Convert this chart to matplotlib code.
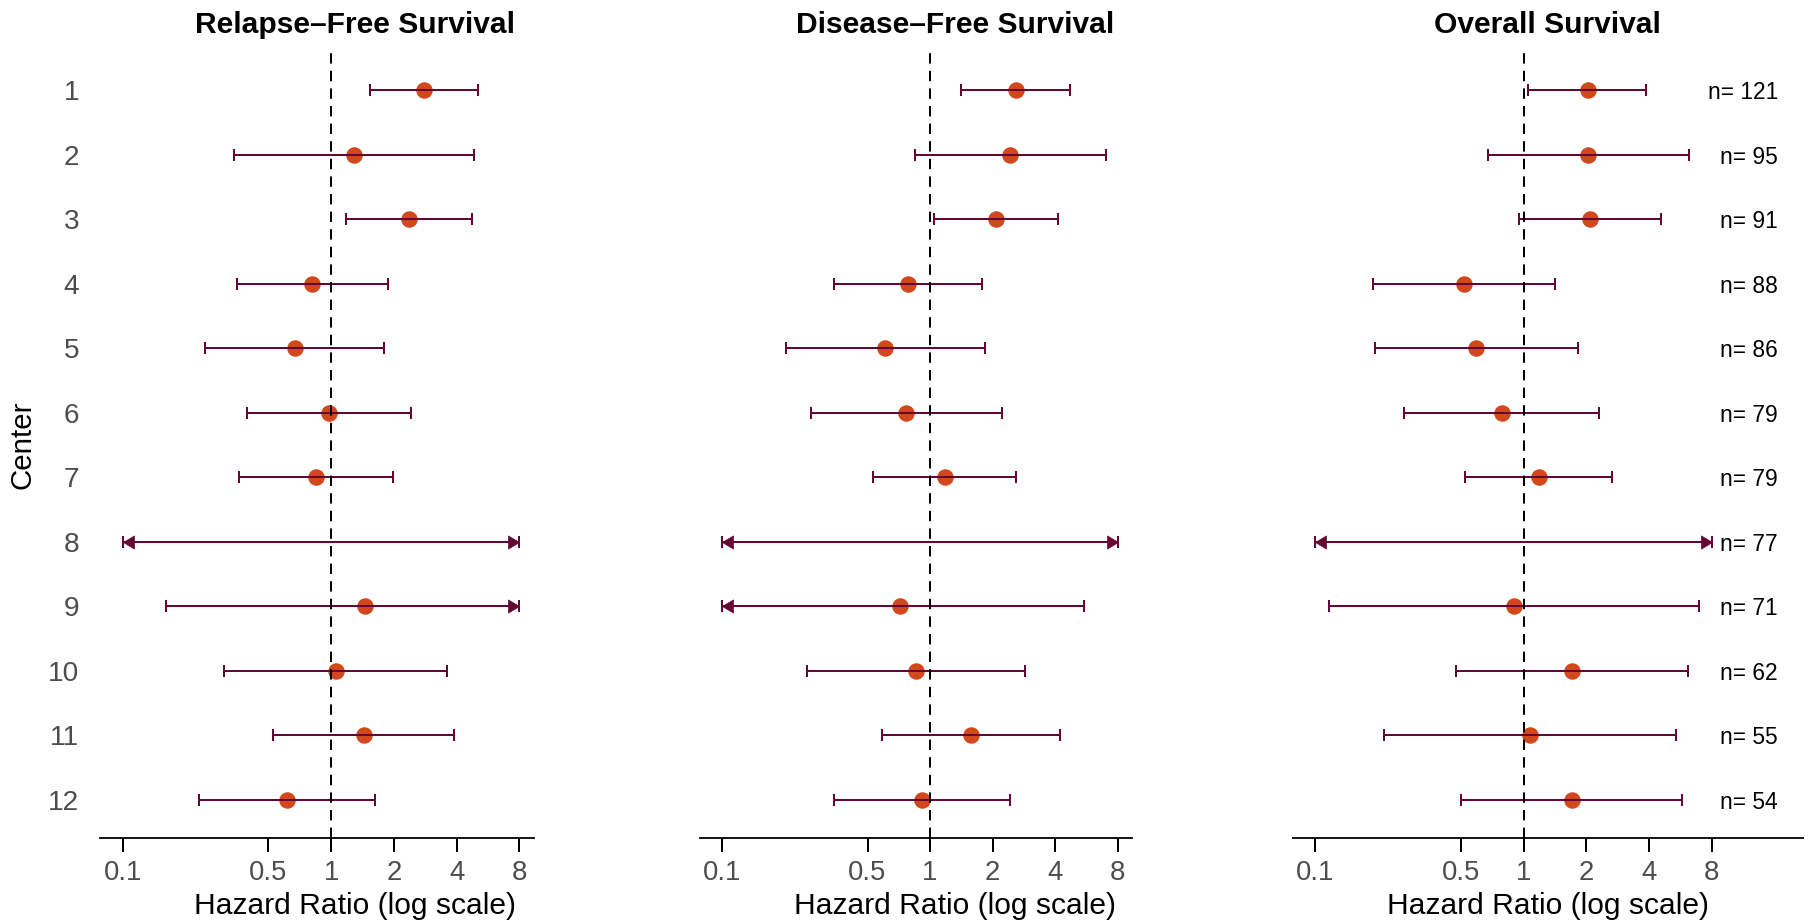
import numpy as np
import matplotlib
matplotlib.use("Agg")
import matplotlib.pyplot as plt
from matplotlib.path import Path

plt.rcParams['font.family'] = ['Liberation Sans', 'DejaVu Sans']

# ---------------- data ----------------
centers = ["1", "2", "3", "4", "5", "6", "7", "8", "9", "10", "11", "12"]
n_patients = [121, 95, 91, 88, 86, 79, 79, 77, 71, 62, 55, 54]

# 0.0 for a lower bound / inf for an upper bound = beyond the plotted range (arrow)
rfs_hr = [2.79, 1.29, 2.36, 0.813, 0.668, 0.976, 0.844, np.nan, 1.46, 1.06, 1.43, 0.613]
rfs_lo = [1.54, 0.342, 1.18, 0.352, 0.248, 0.395, 0.361, 0.0, 0.162, 0.307, 0.524, 0.231]
rfs_hi = [5.05, 4.86, 4.74, 1.88, 1.80, 2.42, 1.97, np.inf, np.inf, 3.60, 3.89, 1.62]

dfs_hr = [2.58, 2.44, 2.08, 0.781, 0.61, 0.77, 1.18, np.nan, 0.715, 0.853, 1.57, 0.915]
dfs_lo = [1.416, 0.847, 1.05, 0.344, 0.202, 0.268, 0.532, 0.0, 0.0, 0.2545, 0.584, 0.344]
dfs_hi = [4.73, 7.07, 4.12, 1.77, 1.84, 2.21, 2.60, np.inf, 5.50, 2.86, 4.22, 2.44]

os_hr = [2.03, 2.05, 2.08, 0.519, 0.591, 0.786, 1.18, np.nan, 0.903, 1.71, 1.07, 1.70]
os_lo = [1.05, 0.676, 0.954, 0.19, 0.193, 0.267, 0.525, 0.0, 0.1167, 0.472, 0.213, 0.503]
os_hi = [3.89, 6.20, 4.59, 1.42, 1.82, 2.30, 2.66, np.inf, 6.98, 6.16, 5.41, 5.78]

titles = ["Relapse\u2013Free Survival", "Disease\u2013Free Survival", "Overall Survival"]
x_ticks = [0.1, 0.5, 1, 2, 4, 8]
x_tick_labels = ["0.1", "0.5", "1", "2", "4", "8"]
clip_low, clip_high = 0.1, 8.0

# ---------------- style ----------------
W, H = 1810, 923
BAR = '#650634'
PT = '#D2481C'
TICKGREY = '#4D4D4D'
px = 72.0 / 100.0  # points per pixel

fig = plt.figure(figsize=(W / 100, H / 100), dpi=100)

y_top, y_bot = 51.3, 838.3
panels = [
    dict(x0=100.3, x1=534.2, xlim=(0.078, 9.42), cx=355.1),
    dict(x0=700.0, x1=1132.3, xlim=(0.078, 9.42), cx=954.7),
    dict(x0=1292.9, x1=1802.9, xlim=(0.078, 21.96), cx=1547.6),
]
series = [(rfs_hr, rfs_lo, rfs_hi), (dfs_hr, dfs_lo, dfs_hi), (os_hr, os_lo, os_hi)]

left_tri = Path([(0, 0), (1, 0.6), (1, -0.6), (0, 0)],
                [Path.MOVETO, Path.LINETO, Path.LINETO, Path.CLOSEPOLY])
right_tri = Path([(0, 0), (-1, 0.6), (-1, -0.6), (0, 0)],
                 [Path.MOVETO, Path.LINETO, Path.LINETO, Path.CLOSEPOLY])

rows = np.arange(1, len(centers) + 1)
lw = 2.0 * px

for i, (p, (hr, lo, hi)) in enumerate(zip(panels, series)):
    ax = fig.add_axes([p['x0'] / W, (H - y_bot) / H, (p['x1'] - p['x0']) / W, (y_bot - y_top) / H])
    ax.set_xscale('log')
    ax.set_xlim(*p['xlim'])
    ax.set_ylim(12.6, 0.4)

    hr = np.array(hr, dtype=float)
    lo = np.array(lo, dtype=float)
    hi = np.array(hi, dtype=float)
    lo_c = np.clip(lo, clip_low, clip_high)
    hi_c = np.clip(hi, clip_low, clip_high)
    lo_tr = lo < clip_low
    hi_tr = hi > clip_high

    # points
    ax.plot(hr, rows, 'o', ms=16.5 * px, color=PT, mec=PT, mew=0, zorder=2, linestyle='none')
    # error bars
    ax.hlines(rows, lo_c, hi_c, color=BAR, lw=lw, zorder=3)
    ax.plot(lo_c, rows, '|', ms=12.7 * px, mew=lw, color=BAR, zorder=3, linestyle='none')
    ax.plot(hi_c, rows, '|', ms=12.7 * px, mew=lw, color=BAR, zorder=3, linestyle='none')
    # arrows for truncated intervals
    ax.plot(lo_c[lo_tr], rows[lo_tr], marker=left_tri, ms=22 * px, color=BAR, mec=BAR,
            mew=0.5, linestyle='none', zorder=3)
    ax.plot(hi_c[hi_tr], rows[hi_tr], marker=right_tri, ms=22 * px, color=BAR, mec=BAR,
            mew=0.5, linestyle='none', zorder=3)
    # reference line
    ax.axvline(1.0, color='black', lw=2.0 * px, linestyle=(0, (5.2, 3.6)), zorder=4)

    # axes styling
    for s in ['top', 'right', 'left']:
        ax.spines[s].set_visible(False)
    ax.spines['bottom'].set_linewidth(1.8 * px)
    ax.spines['bottom'].set_color('black')
    ax.xaxis.set_minor_locator(matplotlib.ticker.NullLocator())
    ax.set_xticks(x_ticks)
    ax.set_xticklabels(x_tick_labels)
    ax.tick_params(axis='x', which='major', length=14 * px, width=2.0 * px, color='black',
                   labelsize=27.5 * px, labelcolor=TICKGREY, pad=8 * px, direction='out')
    if i == 0:
        ax.set_yticks(rows)
        ax.set_yticklabels(centers)
        ax.tick_params(axis='y', length=0, pad=21 * px, labelsize=28 * px, labelcolor=TICKGREY)
    else:
        ax.set_yticks([])
    ax.patch.set_alpha(0)

    if i == 2:
        for r, n in zip(rows, n_patients):
            ax.text(16.65, r, f"n= {n}", ha='right', va='center_baseline',
                    fontsize=22.7 * px, color='black')

    fig.text(p['cx'] / W, (H - 33.3) / H, titles[i], ha='center', va='baseline',
             fontsize=30 * px, fontweight='bold', color='black')
    fig.text(p['cx'] / W, (H - 914.3) / H, "Hazard Ratio (log scale)", ha='center',
             va='baseline', fontsize=30 * px, color='black')

fig.text(23 / W, (H - 444.5) / H, "Center", rotation=90, ha='center', va='center',
         fontsize=29.5 * px, color='black')

fig.savefig("out.png", dpi=100, facecolor='white')
